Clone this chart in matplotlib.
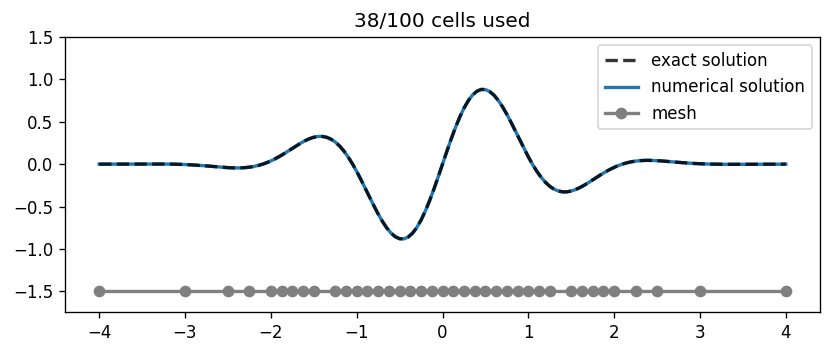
import numpy as np
import matplotlib
matplotlib.use("Agg")
import matplotlib.pyplot as plt

# curve samples (right half, x >= 0); the picture is odd-symmetric
x_half = [0.0, 0.05, 0.1, 0.15, 0.2, 0.25, 0.3, 0.35, 0.4, 0.45, 0.5, 0.55, 0.6, 0.65,
          0.7, 0.75, 0.8, 0.85, 0.9, 0.95, 1.0, 1.05, 1.1, 1.15, 1.2, 1.25, 1.3, 1.35,
          1.4, 1.45, 1.5, 1.55, 1.6, 1.65, 1.7, 1.75, 1.8, 1.85, 1.9, 1.95, 2.0, 2.05,
          2.1, 2.15, 2.2, 2.25, 2.3, 2.35, 2.4, 2.45, 2.5, 2.55, 2.6, 2.65, 2.7, 2.75,
          2.8, 2.85, 2.9, 2.95, 3.0, 3.1, 3.2, 3.3, 3.4, 3.5, 3.6, 3.7, 3.8, 3.9, 4.0]
y_half = [0.0, 0.14925, 0.29405, 0.43010, 0.55346, 0.66067, 0.74886, 0.81589, 0.86039,
          0.88177, 0.88028, 0.85694, 0.81343, 0.75206, 0.67563, 0.58732, 0.49049, 0.38860,
          0.28505, 0.18308, 0.08559, -0.00485, -0.08614, -0.15669, -0.21540, -0.26168,
          -0.29544, -0.31700, -0.32711, -0.32680, -0.31736, -0.30024, -0.27697, -0.24912,
          -0.21826, -0.18576, -0.15293, -0.12092, -0.09057, -0.06270, -0.03782, -0.01624,
          0.00185, 0.01646, 0.02770, 0.03581, 0.04107, 0.04386, 0.04455, 0.04355, 0.04122,
          0.03793, 0.03400, 0.02972, 0.02533, 0.02103, 0.01696, 0.01322, 0.00989, 0.00701,
          0.00458, 0.00102, -0.00104, -0.00198, -0.00216, -0.00193, -0.00150, -0.00105,
          -0.00067, -0.00038, -0.00018]

x_curve = [-v for v in x_half[:0:-1]] + x_half
y_exact = [-v for v in y_half[:0:-1]] + y_half
y_numerical = list(y_exact)

mesh_x = [-4, -3, -2.5, -2.25, -2, -1.875, -1.75, -1.625, -1.5,
          -1.25, -1.125, -1, -0.875, -0.75, -0.625, -0.5, -0.375, -0.25, -0.125,
          0, 0.125, 0.25, 0.375, 0.5, 0.625, 0.75, 0.875, 1, 1.125, 1.25,
          1.5, 1.625, 1.75, 1.875, 2, 2.25, 2.5, 3, 4]
mesh_level = -1.5
title = "38/100 cells used"

fig = plt.figure(figsize=(831 / 120, 353 / 120), dpi=120)
ax = fig.add_axes([0.078, 0.115, 0.909, 0.78])

ax.plot(x_curve, y_exact, 'k--', lw=2, alpha=0.8, label='exact solution', zorder=3)
ax.plot(x_curve, y_numerical, color='#1f77b4', lw=2, label='numerical solution', zorder=2)
ax.plot(mesh_x, [mesh_level] * len(mesh_x), color='gray', marker='o', ms=6, lw=2,
        label='mesh', zorder=2)

ax.set_ylim(-1.75, 1.5)
ax.set_xlim(-4.4, 4.4)
ax.set_title(title, fontsize=12)
ax.legend(loc='upper right', fontsize=10)

fig.savefig("out.png", dpi=120)
